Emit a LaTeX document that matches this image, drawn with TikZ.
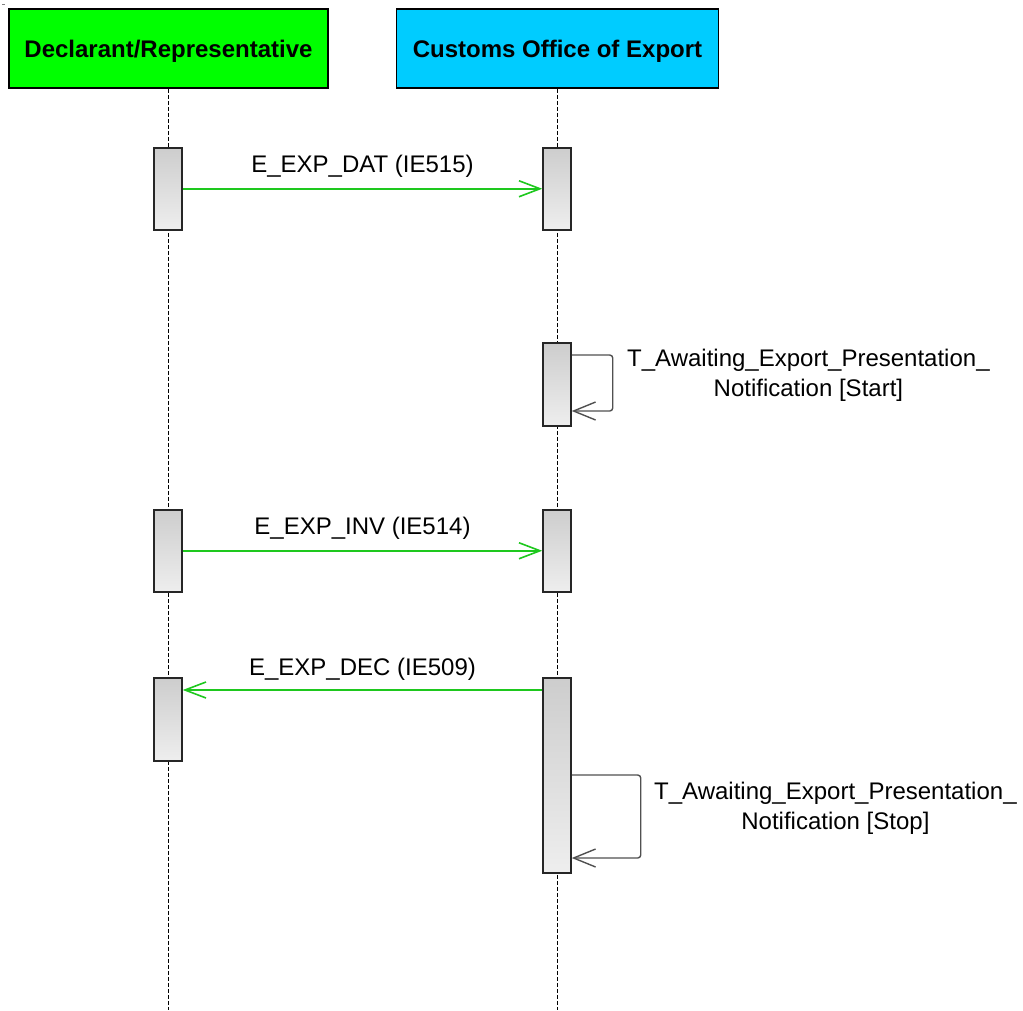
\documentclass[tikz,border=0pt]{standalone}
\usepackage{fontspec}
\setmainfont{Liberation Sans}
\usetikzlibrary{arrows.meta}
\definecolor{hdrgreen}{RGB}{0,255,0}
\definecolor{hdrcyan}{RGB}{0,204,255}
\definecolor{msggreen}{RGB}{30,200,30}
\definecolor{barTop}{RGB}{205,205,205}
\definecolor{barBot}{RGB}{238,238,238}
\definecolor{loopgray}{RGB}{80,80,80}
\begin{document}
\begin{tikzpicture}[x=1pt,y=-1pt,
  header/.style={draw=black, line width=1.6pt, minimum width=319pt, minimum height=79pt, inner sep=0pt,
    font=\fontsize{24}{29}\selectfont\bfseries, text height=17pt, text depth=0pt},
  lifeline/.style={draw=black, line width=1.4pt, dash pattern=on 4pt off 2pt},
  actbar/.style={draw=black!85, line width=1.5pt, top color=barTop, bottom color=barBot,
    minimum width=28pt, inner sep=0pt, anchor=north},
  msg/.style={draw=msggreen, line width=1.6pt, -{Straight Barb[length=21pt,width=16pt]}},
  selfmsg/.style={draw=loopgray, line width=1.4pt, rounded corners=3pt, -{Straight Barb[length=22pt,width=18pt]}},
  lbl/.style={font=\fontsize{24}{30}\selectfont, inner sep=0pt},
]
\useasboundingbox (0,0) rectangle (1023,1010);
\draw[gray, line width=0.8pt] (2,4) -- (5,4);

% headers
\node[header, fill=hdrgreen] (h1) at (168.5,48.5) {Declarant/Representative};
\node[header, fill=hdrcyan, minimum width=322pt] (h2) at (557.5,48.5) {Customs Office of Export};

% lifelines
\coordinate (e1) at (168,1010);
\coordinate (e2) at (557,1010);
\draw[lifeline] (h1.south) -- (h1.south |- e1);
\draw[lifeline] (h2.south) -- (h2.south |- e2);

% activation bars
\node[actbar, minimum height=82pt] (a1) at (168,147) {};
\node[actbar, minimum height=82pt] (b1) at (557,147) {};
\node[actbar, minimum height=83pt] (b2) at (557,342) {};
\node[actbar, minimum height=82pt] (a3) at (168,509) {};
\node[actbar, minimum height=82pt] (b3) at (557,509) {};
\node[actbar, minimum height=83pt] (a4) at (168,677) {};
\node[actbar, minimum height=195pt] (b4) at (557,677) {};

% messages
\draw[msg] (a1.east) -- (b1.west)
  node[lbl, midway, anchor=base, yshift=16pt] (m1) {E\_EXP\_DAT (IE515)};
\draw[msg] (a3.east) -- (b3.west)
  node[lbl, midway, anchor=base, yshift=16pt] (m3) {E\_EXP\_INV (IE514)};
\coordinate (y4) at (0,690);
\draw[msg] (b4.west |- y4) -- (a4.east |- y4)
  node[lbl, midway, anchor=base, yshift=15pt] (m4) {E\_EXP\_DEC (IE509)};

% self messages
\draw[selfmsg] (b2.north east) ++(0,13) -- ++(41,0) -- ++(0,56) -- ++(-41,0);
\node[lbl, align=center, anchor=base west] (t1) at (627,396)
  {T\_Awaiting\_Export\_Presentation\_\\Notification [Start]};
\draw[selfmsg] (b4.north east) ++(0,98) -- ++(69,0) -- ++(0,83) -- ++(-69,0);
\node[lbl, align=center, anchor=base west] (t2) at (654,829)
  {T\_Awaiting\_Export\_Presentation\_\\Notification [Stop]};
\end{tikzpicture}
\end{document}
